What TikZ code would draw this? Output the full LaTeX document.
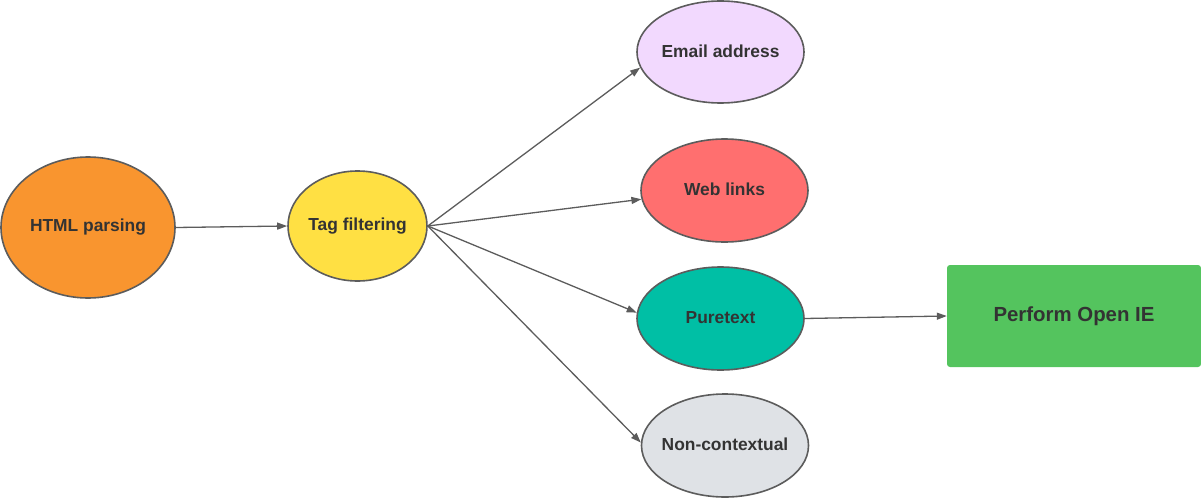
\documentclass[tikz,border=0pt]{standalone}
\usepackage{fontspec}
\setmainfont{Liberation Sans}
\usetikzlibrary{shapes.geometric,arrows.meta}
\definecolor{linegray}{HTML}{5C5C5C}
\definecolor{txtgray}{HTML}{333333}
\definecolor{corange}{HTML}{F9952F}
\definecolor{cyellow}{HTML}{FFE043}
\definecolor{cpurple}{HTML}{F2D9FE}
\definecolor{cred}{HTML}{FF6F6F}
\definecolor{cteal}{HTML}{00BFA5}
\definecolor{cgray}{HTML}{DFE2E6}
\definecolor{cgreen}{HTML}{54C45E}
\newcommand{\zw}[1]{\makebox[0pt]{\raisebox{2.5pt}{#1}}}
\tikzset{
  ell/.style={ellipse, draw=linegray, line width=1.6pt, inner sep=0pt,
    text=txtgray, font=\fontsize{17.4}{20}\selectfont\bfseries},
  conn/.style={draw=linegray, line width=1.3pt,
    -{Triangle[length=10pt,width=7pt]}},
}
\begin{document}
\begin{tikzpicture}[x=1pt,y=-1pt]
\useasboundingbox (0,0) rectangle (1201,500);
\node[ell, fill=corange, minimum width=174pt, minimum height=141pt] (html) at (88,227.5) {\zw{HTML parsing}};
\node[ell, fill=cyellow, minimum width=139pt, minimum height=110pt] (tag) at (357.5,226) {\zw{Tag filtering}};
\node[ell, fill=cpurple, minimum width=167pt, minimum height=102pt] (email) at (720.5,52) {\zw{Email address}};
\node[ell, fill=cred, minimum width=167pt, minimum height=103pt] (web) at (724.5,190.5) {\zw{Web links}};
\node[ell, fill=cteal, minimum width=167pt, minimum height=103pt] (pure) at (720.5,318.5) {\zw{Puretext}};
\node[ell, fill=cgray, minimum width=167pt, minimum height=103pt] (non) at (725,445.5) {\zw{Non-contextual}};
\node[rectangle, rounded corners=3pt, fill=cgreen, minimum width=254pt, minimum height=102pt,
  inner sep=0pt, text=txtgray, font=\fontsize{20.4}{24}\selectfont\bfseries] (ie) at (1074,316) {Perform Open IE};
\draw[conn] (html.east) -- (tag.west);
\draw[conn] (tag.east) -- (email.191);
\draw[conn] (tag.east) -- (web.186);
\draw[conn] (tag.east) -- (pure.176);
\draw[conn] (tag.east) -- (non.178);
\draw[conn] (pure.east) -- (ie.west);
\end{tikzpicture}
\end{document}
